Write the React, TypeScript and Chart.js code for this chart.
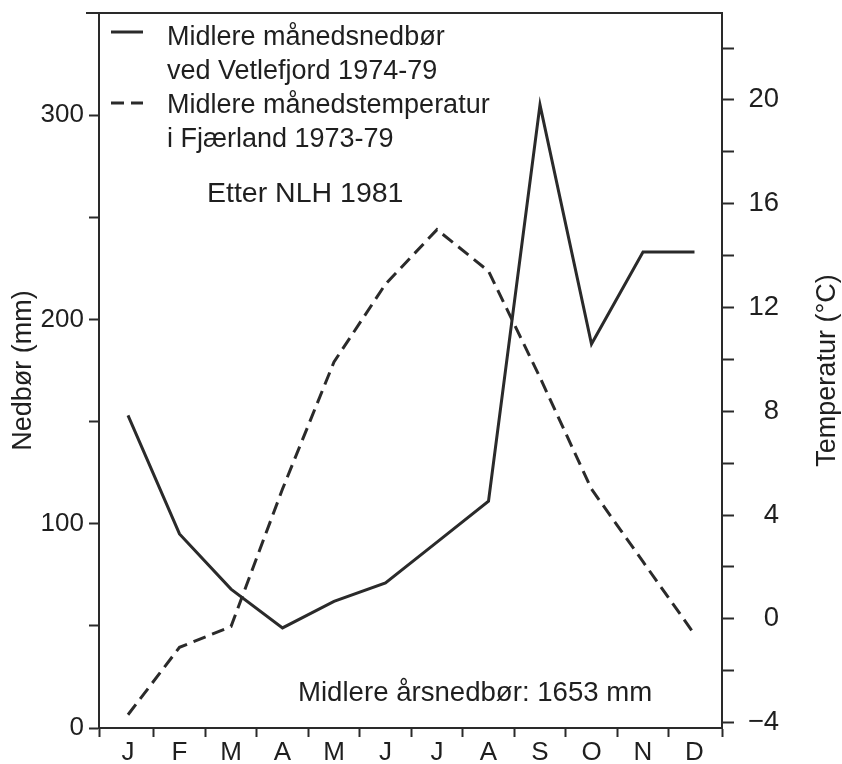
import React, { useEffect, useRef } from 'react';
import { Chart, registerables } from 'chart.js';

Chart.register(...registerables);

// ---- data ----
const months = ['J', 'F', 'M', 'A', 'M', 'J', 'J', 'A', 'S', 'O', 'N', 'D'];
const precipitation = [153, 95, 68, 49, 62, 71, 91, 111, 305, 188, 233, 233];
const temperature = [-3.7, -1.1, -0.3, 5.0, 9.9, 12.9, 15.0, 13.4, 9.3, 5.0, 2.2, -0.6];

const precipTicks = [0, 50, 100, 150, 200, 250, 300];
const precipLabels = [0, 100, 200, 300];
const tempTicks = [-4, -2, 0, 2, 4, 6, 8, 10, 12, 14, 16, 18, 20, 22];
const tempLabels = [-4, 0, 4, 8, 12, 16, 20];

const legendLines = [
  'Midlere månedsnedbør',
  'ved Vetlefjord 1974-79',
  'Midlere månedstemperatur',
  'i Fjærland 1973-79',
];
const sourceNote = 'Etter NLH 1981';
const annualNote = 'Midlere årsnedbør: 1653 mm';
const leftTitle = 'Nedbør (mm)';
const rightTitle = 'Temperatur (°C)';

const FONT = '"Liberation Sans", Arial, Helvetica, sans-serif';
const INK = '#2a2a2a';
const TEXT = '#1f1f1f';

const annotationPlugin = {
  id: 'annotations',
  afterDraw(chart: any) {
    const { ctx, chartArea: ca } = chart;
    ctx.save();
    // top frame line
    ctx.strokeStyle = INK;
    ctx.lineWidth = 2;
    ctx.beginPath();
    ctx.moveTo(ca.left - 13, ca.top);
    ctx.lineTo(ca.right, ca.top);
    ctx.stroke();

    // legend samples
    ctx.lineWidth = 3;
    ctx.setLineDash([]);
    ctx.beginPath();
    ctx.moveTo(ca.left + 12, ca.top + 19);
    ctx.lineTo(ca.left + 44, ca.top + 19);
    ctx.stroke();
    ctx.setLineDash([13, 7]);
    ctx.beginPath();
    ctx.moveTo(ca.left + 12, ca.top + 90);
    ctx.lineTo(ca.left + 44, ca.top + 90);
    ctx.stroke();
    ctx.setLineDash([]);

    ctx.fillStyle = TEXT;
    ctx.font = `27px ${FONT}`;
    ctx.textAlign = 'left';
    ctx.textBaseline = 'alphabetic';
    const baselines = [32, 66, 100, 134];
    legendLines.forEach((t, i) => ctx.fillText(t, ca.left + 68, ca.top + baselines[i]));
    ctx.font = `28.5px ${FONT}`;
    ctx.fillText(sourceNote, ca.left + 108, ca.top + 189);
    ctx.font = `27.6px ${FONT}`;
    ctx.fillText(annualNote, ca.left + 199, ca.bottom - 27);

    // right axis title
    ctx.font = `27px ${FONT}`;
    ctx.translate(ca.right + 106, (ca.top + ca.bottom) / 2);
    ctx.rotate(-Math.PI / 2);
    ctx.textAlign = 'center';
    ctx.textBaseline = 'middle';
    ctx.fillText(rightTitle, 0, 0);
    ctx.restore();
  },
};

export default function App() {
  const canvasRef = useRef<HTMLCanvasElement | null>(null);

  useEffect(() => {
    const canvas = canvasRef.current;
    if (!canvas) return;
    const chart = new Chart(canvas, {
      type: 'line',
      data: {
        datasets: [
          {
            label: legendLines[0],
            data: months.map((_, i) => ({ x: i, y: precipitation[i] })),
            yAxisID: 'y',
            borderColor: INK,
            borderWidth: 3,
            pointRadius: 0,
            tension: 0,
            fill: false,
          },
          {
            label: legendLines[2],
            data: months.map((_, i) => ({ x: i, y: temperature[i] })),
            yAxisID: 'y1',
            borderColor: INK,
            borderWidth: 3,
            borderDash: [13, 7],
            pointRadius: 0,
            tension: 0,
            fill: false,
          },
        ],
      },
      options: {
        responsive: false,
        animation: false,
        layout: { padding: { top: 13, right: 63, left: 0, bottom: 0 } },
        plugins: { legend: { display: false }, tooltip: { enabled: false } },
        scales: {
          x: {
            type: 'linear',
            min: -0.563,
            max: 11.534,
            afterBuildTicks: (scale: any) => {
              const vals: number[] = [scale.min];
              for (let i = 0; i < months.length; i++) {
                vals.push(i);
                if (i < months.length - 1) vals.push(i + 0.5);
              }
              vals.push(scale.max);
              scale.ticks = vals.map((v) => ({ value: v }));
            },
            afterFit: (scale: any) => {
              scale.height = 36;
              scale.paddingLeft = 0;
              scale.paddingRight = 0;
            },
            ticks: {
              autoSkip: false,
              maxRotation: 0,
              minRotation: 0,
              padding: 0,
              color: TEXT,
              font: { family: FONT, size: 26 },
              callback: (v: any) => (Number.isInteger(v) ? months[v] : ''),
            },
            grid: {
              drawOnChartArea: false,
              tickLength: 9,
              tickWidth: 2,
              tickColor: (c: any) => (c.tick && Number.isInteger(c.tick.value) ? 'rgba(0,0,0,0)' : INK),
            },
            border: { color: INK, width: 2 },
          },
          y: {
            type: 'linear',
            position: 'left',
            min: 0,
            max: 350,
            afterBuildTicks: (scale: any) => {
              scale.ticks = precipTicks.map((v) => ({ value: v }));
            },
            afterFit: (scale: any) => {
              scale.width = 99;
              scale.paddingTop = 0;
              scale.paddingBottom = 0;
            },
            ticks: {
              padding: 5,
              color: TEXT,
              font: { family: FONT, size: 26 },
              callback: (v: any) => (precipLabels.includes(v) ? String(v) : ''),
            },
            grid: { drawOnChartArea: false, tickLength: 10, tickWidth: 2, tickColor: INK },
            border: { color: INK, width: 2 },
            title: {
              display: true,
              text: leftTitle,
              color: TEXT,
              font: { family: FONT, size: 27 },
              padding: { top: 7, bottom: 0 },
            },
          },
          y1: {
            type: 'linear',
            position: 'right',
            min: -4.21,
            max: 23.35,
            afterBuildTicks: (scale: any) => {
              scale.ticks = tempTicks.map((v) => ({ value: v }));
            },
            afterFit: (scale: any) => {
              scale.width = 57;
              scale.paddingTop = 0;
              scale.paddingBottom = 0;
            },
            ticks: {
              crossAlign: 'far',
              padding: 8,
              color: TEXT,
              font: { family: FONT, size: 27.5 },
              callback: (v: any) =>
                tempLabels.includes(v) ? (v < 0 ? '\u2212' + Math.abs(v) : String(v)) : '',
            },
            grid: { drawOnChartArea: false, tickLength: 12, tickWidth: 2, tickColor: INK },
            border: { color: INK, width: 2 },
          },
        },
      },
      plugins: [annotationPlugin],
    } as any);
    return () => chart.destroy();
  }, []);

  return (
    <div style={{ position: 'fixed', left: 0, top: 0, width: 842, height: 764, background: '#fff' }}>
      <canvas ref={canvasRef} width={842} height={764} style={{ display: 'block' }} />
    </div>
  );
}
